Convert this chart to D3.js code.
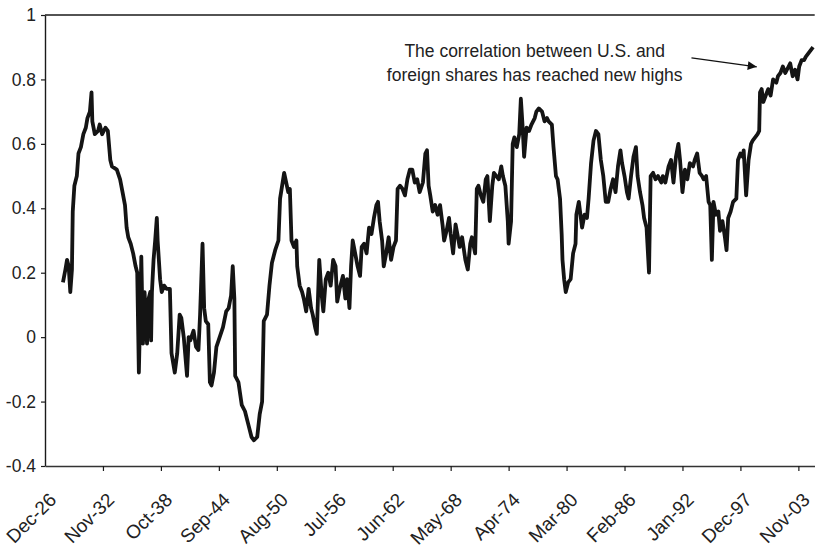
<!DOCTYPE html>
<html><head><meta charset="utf-8">
<script src="https://cdn.jsdelivr.net/npm/d3@7"></script>
<style>body{margin:0;background:#fff}svg{display:block}</style>
</head><body><svg id="c" width="815" height="551"></svg>
<script>
// ---- data ----
const tickLabels = ["Dec-26","Nov-32","Oct-38","Sep-44","Aug-50","Jul-56","Jun-62","May-68","Apr-74","Mar-80","Feb-86","Jan-92","Dec-97","Nov-03"];
const tickMonths = [0,71,142,213,284,355,426,497,568,639,710,781,852,923]; // months since Dec-1926
const yTicks = [-0.4,-0.2,0,0.2,0.4,0.6,0.8,1];
const noteLines = ["The correlation between U.S. and","foreign shares has reached new highs"];

// months since Dec-1926
const months = [
22,25,27,29,31,33,34,36,39,41,44,47,50,52,55,57,58,61,65,67,70,74,77,80,82,88,92,95,98,100,102,105,108,111,113,
115,117,118,120,122,125,127,129,130,131,133,135,137,138,141,143,146,149,153,
155,159,162,165,167,170,174,176,178,182,185,188,190,193,195,197,200,202,204,207,210,214,218,222,225,228,230,232,233,237,
241,245,249,253,256,260,263,266,268,272,275,278,282,286,288,293,298,
300,302,305,308,309,312,315,317,320,323,326,328,331,333,336,339,341,344,347,350,353,356,358,361,365,368,370,373,375,377,
380,383,386,388,391,394,397,400,403,406,408,410,413,415,418,421,424,427,430,432,435,438,441,444,447,450,453,456,459,463,466,468,470,
472,475,478,481,484,487,489,492,495,497,500,503,506,508,511,515,518,521,523,527,529,531,534,537,540,542,545,548,550,553,556,559,561,564,567,568,
571,573,575,578,581,583,585,587,590,593,596,600,602,605,609,612,615,617,621,623,626,628,631,633,634,636,638,641,644,647,650,651,654,658,661,664,666,
669,672,675,678,681,684,687,690,693,696,699,702,705,707,710,713,715,718,721,724,726,729,732,734,737,740,742,745,748,751,755,757,760,764,767,770,773,776,778,781,784,
787,790,794,796,799,802,805,807,810,813,815,817,819,822,825,827,830,833,835,837,840,843,847,849,852,855,856,859,862,865,867,870,873,875,876,878,880,883,886,889,
892,896,898,901,904,907,909,913,916,919,922,924,927,930,932,935,938,941
];
// rolling correlation, U.S. vs foreign shares
const corr = [
0.17,0.21,0.24,0.22,0.14,0.21,0.39,0.47,0.50,0.57,0.59,0.63,0.65,0.68,0.70,0.76,0.67,0.63,0.64,0.66,0.63,0.65,0.64,0.55,0.53,0.52,0.49,0.45,0.41,0.34,0.31,0.29,0.26,0.22,0.20,
-0.11,0.12,0.25,-0.02,0.14,-0.02,0.12,0.14,-0.01,0.14,0.24,0.30,0.37,0.30,0.18,0.14,0.16,0.15,0.15,
-0.05,-0.11,-0.05,0.07,0.06,0.00,-0.12,0.00,-0.01,0.02,-0.03,-0.04,0.07,0.29,0.09,0.05,0.04,-0.14,-0.15,-0.11,-0.03,0.00,0.03,0.08,0.09,0.13,0.22,0.12,-0.12,-0.14,
-0.21,-0.23,-0.27,-0.31,-0.32,-0.31,-0.24,-0.20,0.05,0.07,0.16,0.23,0.27,0.30,0.43,0.51,0.45,
0.46,0.30,0.28,0.30,0.22,0.16,0.14,0.12,0.08,0.15,0.09,0.07,0.03,0.01,0.24,0.13,0.08,0.18,0.20,0.16,0.24,0.22,0.11,0.15,0.19,0.12,0.18,0.09,0.22,0.30,
0.26,0.22,0.19,0.28,0.29,0.26,0.34,0.32,0.37,0.41,0.42,0.36,0.30,0.22,0.26,0.31,0.24,0.28,0.30,0.46,0.47,0.46,0.44,0.49,0.52,0.52,0.48,0.49,0.45,0.48,0.57,0.58,0.47,
0.44,0.39,0.41,0.38,0.41,0.35,0.30,0.33,0.37,0.32,0.26,0.35,0.31,0.28,0.31,0.24,0.21,0.29,0.31,0.26,0.46,0.47,0.44,0.42,0.49,0.50,0.36,0.47,0.51,0.50,0.49,0.53,0.50,0.47,0.36,0.29,
0.36,0.60,0.62,0.59,0.63,0.74,0.66,0.56,0.65,0.64,0.66,0.68,0.70,0.71,0.70,0.67,0.68,0.67,0.66,0.59,0.50,0.49,0.43,0.32,0.24,0.18,0.14,0.17,0.18,0.26,0.29,0.38,0.42,0.34,0.38,0.37,0.43,
0.54,0.61,0.64,0.63,0.55,0.50,0.42,0.42,0.46,0.49,0.45,0.53,0.58,0.54,0.50,0.45,0.43,0.50,0.56,0.59,0.50,0.45,0.41,0.37,0.34,0.20,0.50,0.51,0.49,0.50,0.48,0.50,0.48,0.53,0.55,0.48,0.56,0.60,0.55,0.45,0.52,
0.49,0.54,0.53,0.55,0.57,0.51,0.50,0.49,0.50,0.42,0.41,0.24,0.42,0.38,0.39,0.33,0.36,0.31,0.27,0.37,0.39,0.42,0.43,0.55,0.57,0.56,0.58,0.44,0.55,0.60,0.61,0.62,0.63,0.64,0.76,0.77,0.73,0.75,0.77,0.75,
0.80,0.79,0.81,0.82,0.84,0.82,0.83,0.85,0.81,0.83,0.80,0.84,0.86,0.86,0.87,0.88,0.89,0.90
];

// ---- chart ----
const svg = d3.select("#c");
const FONT = "'Liberation Sans', Arial, sans-serif";
const x = d3.scaleLinear().domain([0, 943]).range([45, 814.7]);
const y = d3.scaleLinear().domain([-0.4, 1]).range([466, 15]);

// top border
svg.append("line")
  .attr("x1", x(0)).attr("x2", x(943))
  .attr("y1", y(1)).attr("y2", y(1))
  .attr("stroke", "#1a1a1a").attr("stroke-width", 1.4);

// y axis
const gy = svg.append("g").attr("transform", `translate(${x(0)},0)`)
  .call(d3.axisLeft(y).tickValues(yTicks).tickSize(4).tickSizeOuter(0).tickPadding(5)
    .tickFormat(d => String(Math.round(d * 10) / 10)));
gy.select(".domain").attr("stroke", "#1a1a1a").attr("stroke-width", 1.4);
gy.selectAll(".tick line").attr("stroke", "#1a1a1a").attr("stroke-width", 1.2);
gy.selectAll("text").attr("font-family", FONT).attr("font-size", 17.5).attr("fill", "#222");

// x axis
const gx = svg.append("g").attr("transform", `translate(0,${y(-0.4)})`)
  .call(d3.axisBottom(x).tickValues(tickMonths).tickSize(5).tickSizeOuter(0)
    .tickFormat((d, i) => tickLabels[i]));
gx.select(".domain").attr("stroke", "#333").attr("stroke-width", 1.4);
gx.selectAll(".tick line").attr("stroke", "#1a1a1a").attr("stroke-width", 1.2);
gx.selectAll(".tick").filter(d => d === 0).select("line").remove();
gx.selectAll("text")
  .attr("font-family", FONT).attr("font-size", 19).attr("fill", "#222")
  .attr("x", 0).attr("y", 0).attr("dy", 0)
  .attr("text-anchor", "end")
  .attr("transform", "translate(12,35) rotate(-45)");

// correlation line
svg.append("path")
  .datum(months.map((m, i) => [m, corr[i]]))
  .attr("fill", "none")
  .attr("stroke", "#141414")
  .attr("stroke-width", 3.8)
  .attr("stroke-linejoin", "round")
  .attr("d", d3.line().x(d => x(d[0])).y(d => y(d[1])));

// annotation
svg.append("defs").append("marker")
  .attr("id", "ah").attr("viewBox", "0 0 10 10").attr("refX", 10).attr("refY", 5)
  .attr("markerWidth", 11).attr("markerHeight", 9).attr("markerUnits", "userSpaceOnUse")
  .attr("orient", "auto")
  .append("path").attr("d", "M0,0L10,5L0,10Z").attr("fill", "#111");

svg.append("line")
  .attr("x1", x(792)).attr("y1", y(0.867))
  .attr("x2", x(872)).attr("y2", y(0.839))
  .attr("stroke", "#111").attr("stroke-width", 1.3)
  .attr("marker-end", "url(#ah)");

svg.append("g").selectAll("text").data(noteLines).join("text")
  .attr("x", x(600))
  .attr("y", (d, i) => y(i === 0 ? 0.87 : 0.795))
  .attr("text-anchor", "middle")
  .attr("font-family", FONT).attr("font-size", 17.5).attr("fill", "#222")
  .text(d => d);
</script>
</body></html>
